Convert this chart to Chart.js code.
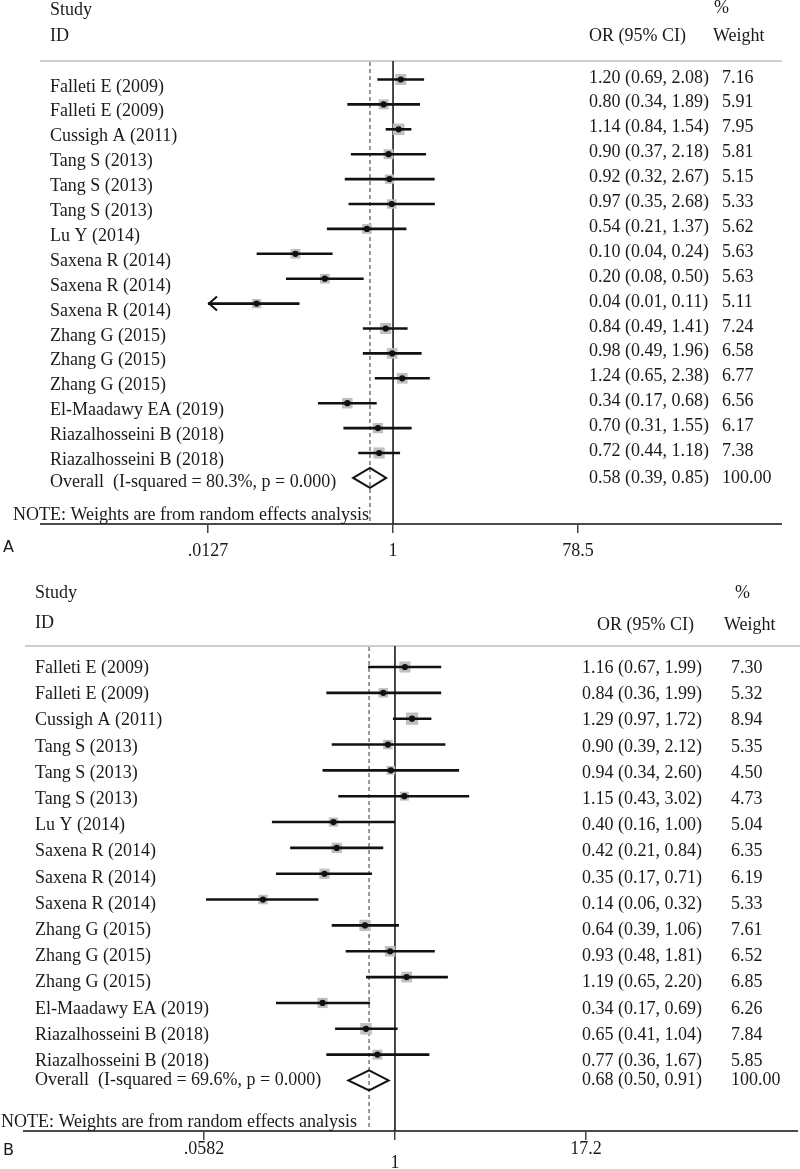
<!DOCTYPE html>
<html>
<head>
<meta charset="utf-8">
<script src="https://cdn.jsdelivr.net/npm/chart.js@4.4.0/dist/chart.umd.min.js"></script>
<style>
  html, body { margin: 0; padding: 0; background: #fff; }
  #wrap { position: relative; width: 800px; height: 1169px; overflow: hidden; }
  canvas { position: absolute; left: 0; }
  #chartA { top: 0; }
  #chartB { top: 585px; }
</style>
</head>
<body>
<div id="wrap">
  <canvas id="chartA" width="800" height="585"></canvas>
  <canvas id="chartB" width="800" height="584"></canvas>
</div>
<script>
// study labels (same order in both panels)
const studies = [
  'Falleti E (2009)', 'Falleti E (2009)', 'Cussigh A (2011)', 'Tang S (2013)',
  'Tang S (2013)', 'Tang S (2013)', 'Lu Y (2014)', 'Saxena R (2014)',
  'Saxena R (2014)', 'Saxena R (2014)', 'Zhang G (2015)', 'Zhang G (2015)',
  'Zhang G (2015)', 'El-Maadawy EA (2019)', 'Riazalhosseini B (2018)', 'Riazalhosseini B (2018)'
];

// panel A
const orA     = [1.20, 0.80, 1.14, 0.90, 0.92, 0.97, 0.54, 0.10, 0.20, 0.04, 0.84, 0.98, 1.24, 0.34, 0.70, 0.72];
const lowA    = [0.69, 0.34, 0.84, 0.37, 0.32, 0.35, 0.21, 0.04, 0.08, 0.01, 0.49, 0.49, 0.65, 0.17, 0.31, 0.44];
const highA   = [2.08, 1.89, 1.54, 2.18, 2.67, 2.68, 1.37, 0.24, 0.50, 0.11, 1.41, 1.96, 2.38, 0.68, 1.55, 1.18];
const weightA = [7.16, 5.91, 7.95, 5.81, 5.15, 5.33, 5.62, 5.63, 5.63, 5.11, 7.24, 6.58, 6.77, 6.56, 6.17, 7.38];
const overallA = [0.58, 0.39, 0.85];
const i2A = '80.3%';
const ticksA = [0.0127, 1, 78.5];
const tickLabelsA = ['.0127', '1', '78.5'];

// panel B
const orB     = [1.16, 0.84, 1.29, 0.90, 0.94, 1.15, 0.40, 0.42, 0.35, 0.14, 0.64, 0.93, 1.19, 0.34, 0.65, 0.77];
const lowB    = [0.67, 0.36, 0.97, 0.39, 0.34, 0.43, 0.16, 0.21, 0.17, 0.06, 0.39, 0.48, 0.65, 0.17, 0.41, 0.36];
const highB   = [1.99, 1.99, 1.72, 2.12, 2.60, 3.02, 1.00, 0.84, 0.71, 0.32, 1.06, 1.81, 2.20, 0.69, 1.04, 1.67];
const weightB = [7.30, 5.32, 8.94, 5.35, 4.50, 4.73, 5.04, 6.35, 6.19, 5.33, 7.61, 6.52, 6.85, 6.26, 7.84, 5.85];
const overallB = [0.68, 0.50, 0.91];
const i2B = '69.6%';
const ticksB = [0.0582, 1, 17.2];
const tickLabelsB = ['.0582', ['', '1'], '17.2'];

const SERIF = "'Liberation Serif', 'Times New Roman', serif";
const INK = '#1a1a1a';

function seg(ctx, x0, y0, x1, y1) {
  ctx.beginPath();
  ctx.moveTo(x0, y0);
  ctx.lineTo(x1, y1);
  ctx.stroke();
}

const fmtCI = (v, lo, hi) => `${v.toFixed(2)} (${lo.toFixed(2)}, ${hi.toFixed(2)})`;

// draws rules, CI whiskers, the pooled diamond and all the text columns
function forestPlugin(d, lay) {
  return {
    id: 'forest' + lay.letter,
    beforeDatasetsDraw(chart) {
      const { ctx, chartArea: a, scales: { x } } = chart;
      ctx.save();
      ctx.strokeStyle = '#bdbdbd';
      ctx.lineWidth = 1.5;
      seg(ctx, lay.rule[0], a.top, lay.rule[1], a.top);
      ctx.strokeStyle = '#4a4a4a';
      ctx.lineWidth = 2;
      seg(ctx, lay.axis[0], a.bottom, lay.axis[1], a.bottom);
      const x1 = x.getPixelForValue(1);
      ctx.strokeStyle = INK;
      ctx.lineWidth = 1.6;
      seg(ctx, x1, a.top, x1, a.bottom);
      const xo = x.getPixelForValue(d.overall[0]);
      ctx.strokeStyle = '#555';
      ctx.lineWidth = 1.2;
      ctx.setLineDash([4, 3]);
      seg(ctx, xo, a.top + 1, xo, a.bottom);
      ctx.restore();
    },
    afterDatasetDraw(chart, args) {
      if (args.index !== 1) return; // right after the grey boxes
      const { ctx, scales: { x, y } } = chart;
      ctx.save();
      ctx.strokeStyle = '#111';
      d.or.forEach((v, i) => {
        const yy = y.getPixelForValue(i);
        const clipped = d.low[i] < x.min;
        const x0 = x.getPixelForValue(Math.max(d.low[i], x.min));
        const x2 = x.getPixelForValue(Math.min(d.high[i], x.max));
        ctx.lineWidth = 2.6;
        seg(ctx, x0, yy, x2, yy);
        if (clipped) {
          ctx.lineWidth = 2;
          ctx.beginPath();
          ctx.moveTo(x0 + 9, yy - 7);
          ctx.lineTo(x0 + 1, yy);
          ctx.lineTo(x0 + 9, yy + 7);
          ctx.stroke();
        }
      });
      ctx.restore();
    },
    afterDatasetsDraw(chart) {
      const { ctx, chartArea: a, scales: { x, y } } = chart;
      ctx.save();
      // pooled estimate diamond
      const n = d.or.length;
      const yc = y.getPixelForValue(n);
      ctx.strokeStyle = '#111';
      ctx.lineWidth = 2;
      ctx.beginPath();
      ctx.moveTo(x.getPixelForValue(d.overall[1]), yc);
      ctx.lineTo(x.getPixelForValue(d.overall[0]), yc - 10);
      ctx.lineTo(x.getPixelForValue(d.overall[2]), yc);
      ctx.lineTo(x.getPixelForValue(d.overall[0]), yc + 10);
      ctx.closePath();
      ctx.stroke();

      ctx.fillStyle = INK;
      ctx.textAlign = 'left';
      ctx.textBaseline = 'alphabetic';
      ctx.font = `18px ${SERIF}`;
      const h = lay.head;
      ctx.fillText('Study', lay.labelX, h.study);
      ctx.fillText('ID', lay.labelX, h.id);
      ctx.fillText('%', h.pctX, h.pct);
      ctx.fillText('OR (95% CI)', h.orX, h.or);
      ctx.fillText('Weight', h.wX, h.w);

      d.or.forEach((v, i) => {
        const yy = y.getPixelForValue(i) + lay.drift * i;
        ctx.fillText(studies[i], lay.labelX, yy + lay.labelDy);
        ctx.fillText(fmtCI(v, d.low[i], d.high[i]), lay.orX, yy + lay.valueDy);
        ctx.fillText(d.w[i].toFixed(2), lay.wX, yy + lay.valueDy);
      });
      ctx.fillText(`Overall  (I-squared = ${d.i2}, p = 0.000)`, lay.labelX, yc + lay.overallDy[0]);
      ctx.fillText(fmtCI(d.overall[0], d.overall[1], d.overall[2]), lay.orX, yc + lay.overallDy[1]);
      ctx.fillText('100.00', lay.wX, yc + lay.overallDy[1]);

      ctx.fillText('NOTE: Weights are from random effects analysis', lay.noteX, a.bottom - 4);

      ctx.font = "16px 'DejaVu Sans', sans-serif";
      ctx.fillText(lay.letter, 3, lay.letterY);
      ctx.restore();
    }
  };
}

function drawForest(id, d, lay) {
  const pts = d.or.map((v, i) => ({ x: v, y: i }));
  return new Chart(document.getElementById(id), {
    type: 'scatter',
    data: {
      datasets: [
        { data: pts, pointStyle: 'circle', pointRadius: 3.1, backgroundColor: '#111', borderWidth: 0 },
        {
          data: pts, pointStyle: 'rect', borderWidth: 0, backgroundColor: '#bfbfbf',
          // box area proportional to the study weight
          pointRadius: c => 4.1 * Math.sqrt(d.w[c.dataIndex]) / Math.SQRT2
        }
      ]
    },
    options: {
      responsive: false,
      animation: false,
      devicePixelRatio: 1,
      events: [],
      layout: { padding: { left: lay.padLeft, right: lay.padRight, top: lay.top, bottom: 0 } },
      plugins: { legend: { display: false }, tooltip: { enabled: false } },
      scales: {
        x: {
          type: 'logarithmic',
          position: 'bottom',
          min: d.ticks[0],
          max: d.ticks[d.ticks.length - 1],
          afterBuildTicks: s => { s.ticks = d.ticks.map(v => ({ value: v })); },
          afterFit: s => { s.height = lay.axisH; },
          border: { display: false },
          grid: { drawOnChartArea: false, drawTicks: true, tickLength: 9, color: '#444', lineWidth: 1.5 },
          ticks: {
            autoSkip: false,
            maxRotation: 0,
            padding: lay.tickPad,
            color: INK,
            font: c => ({ family: SERIF, size: 18, lineHeight: Array.isArray(d.tickLabels[c.index]) ? 0.85 : 1 }),
            callback: (v, i) => d.tickLabels[i]
          }
        },
        y: { type: 'linear', reverse: true, min: lay.yMin, max: lay.yMax, display: false }
      }
    },
    plugins: [forestPlugin(d, lay)]
  });
}

drawForest('chartA',
  { or: orA, low: lowA, high: highA, w: weightA, overall: overallA, i2: i2A, ticks: ticksA, tickLabels: tickLabelsA },
  {
    letter: 'A', letterY: 552, padLeft: 208, padRight: 222, top: 61, axisH: 61, tickPad: 9,
    yMin: -0.743, yMax: 17.851, rule: [40, 782], axis: [40, 782],
    labelX: 50, orX: 589, wX: 722, noteX: 13,
    labelDy: 12, valueDy: 3, drift: 0, overallDy: [9, 5],
    head: { study: 15, id: 41, pct: 13, pctX: 714, or: 41, orX: 589, w: 41, wX: 713 }
  });

drawForest('chartB',
  { or: orB, low: lowB, high: highB, w: weightB, overall: overallB, i2: i2B, ticks: ticksB, tickLabels: tickLabelsB },
  {
    letter: 'B', letterY: 570, padLeft: 204, padRight: 214, top: 61, axisH: 38, tickPad: 0,
    yMin: -0.813, yMax: 17.956, rule: [25, 800], axis: [23, 798],
    labelX: 35, orX: 582, wX: 731, noteX: 1,
    labelDy: 6, valueDy: 6, drift: 0.36, overallDy: [5, 5],
    head: { study: 13, id: 43, pct: 13, pctX: 735, or: 45, orX: 597, w: 45, wX: 724 }
  });
</script>
</body>
</html>
